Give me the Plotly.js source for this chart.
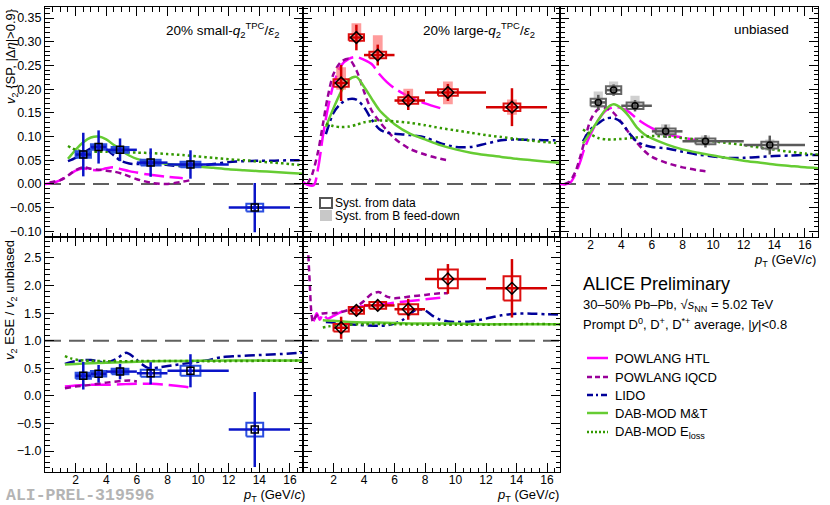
<!DOCTYPE html>
<html>
<head>
<meta charset="utf-8">
<script src="https://cdn.plot.ly/plotly-3.0.1.min.js"></script>
<style>
  html, body { margin: 0; padding: 0; background: #fff; }
  #chart { width: 830px; height: 505px; }
</style>
</head>
<body>
<div id="chart"></div>
<script>
// ---- data points (pT bins 2-3, 3-4, 4-6, 6-8, 8-12, 12-16) ----
const ptX  = [2.5, 3.5, 4.9, 6.9, 9.5, 13.7];
const ptLo = [0.5, 0.5, 0.9, 0.9, 1.5, 1.7];
const ptHi = [0.5, 0.5, 1.1, 1.1, 2.5, 2.3];
const xTicks = [2, 4, 6, 8, 10, 12, 14, 16];

// v2, 20% small-q2
const v2Small     = [0.062, 0.078, 0.072, 0.045, 0.041, -0.050];
const v2SmallStat = [0.046, 0.035, 0.024, 0.030, 0.030, 0.052];
const v2SmallSyst = [0.007, 0.006, 0.006, 0.006, 0.006, 0.008];
const v2SmallFd   = [0.006, 0.005, 0.005, 0.005, 0.005, 0.003];

// v2, 20% large-q2
const v2Large       = [0.213, 0.309, 0.272, 0.176, 0.193, 0.162];
const v2LargeStat   = [0.038, 0.027, 0.022, 0.020, 0.018, 0.040];
const v2LargeSyst   = [0.008, 0.007, 0.007, 0.007, 0.007, 0.008];
const v2LargeFdUp   = [0.033, 0.030, 0.042, 0.025, 0.023, 0.016];
const v2LargeFdDown = [0.014, 0.010, 0.005, 0.008, 0.025, 0.016];

// v2, unbiased
const v2Unb       = [0.172, 0.198, 0.165, 0.111, 0.090, 0.082];
const v2UnbStat   = [0.016, 0.012, 0.012, 0.014, 0.013, 0.020];
const v2UnbSyst   = [0.008, 0.008, 0.007, 0.006, 0.006, 0.007];
const v2UnbFdUp   = [0.023, 0.018, 0.021, 0.015, 0.012, 0.012];
const v2UnbFdDown = [0.012, 0.010, 0.009, 0.009, 0.009, 0.012];

// ratios ESE / unbiased
const rSmall     = [0.365, 0.40, 0.44, 0.41, 0.455, -0.61];
const rSmallStat = [0.25, 0.16, 0.14, 0.20, 0.30, 0.68];
const rSmallSyst = [0.055, 0.05, 0.05, 0.065, 0.09, 0.125];
const rSmallFd   = [0.05, 0.045, 0.045, 0, 0, 0];

const rLarge     = [1.235, 1.55, 1.64, 1.57, 2.12, 1.95];
const rLargeStat = [0.20, 0.09, 0.10, 0.19, 0.27, 0.53];
const rLargeSyst = [0.07, 0.06, 0.06, 0.09, 0.17, 0.22];

// ---- model curves, v2 panels ----
const htlX      = [0, 0.3, 0.7, 1, 1.3, 1.6, 2, 2.5, 3, 3.5, 4, 4.5, 5, 5.5, 6, 6.5, 7, 8, 9];
const htlSmall  = [0, 0.001, 0.004, 0.008, 0.014, 0.02, 0.028, 0.033, 0.03, 0.029, 0.033, 0.035, 0.031, 0.027, 0.024, 0.021, 0.019, 0.015, 0.012];
const htlLarge  = [0.004, -0.002, -0.003, 0.035, 0.1, 0.155, 0.21, 0.25, 0.264, 0.268, 0.262, 0.253, 0.232, 0.215, 0.202, 0.192, 0.183, 0.17, 0.16];
const htlUnb    = [0, -0.001, 0.004, 0.02, 0.045, 0.075, 0.105, 0.135, 0.155, 0.162, 0.16, 0.152, 0.138, 0.127, 0.118, 0.11, 0.104, 0.098, 0.091];

const lqcdX     = [0.3, 0.6, 1, 1.3, 1.6, 2, 2.5, 3, 3.5, 4, 4.5, 5, 5.5, 6, 7, 8, 9, 9.5];
const lqcdSmall = [0.003, 0.005, 0.008, 0.013, 0.02, 0.029, 0.035, 0.032, 0.03, 0.028, 0.026, 0.022, 0.016, 0.01, 0.002, 0, 0.005, 0.008];
const lqcdLarge = [0, 0.02, 0.07, 0.125, 0.18, 0.232, 0.258, 0.264, 0.24, 0.195, 0.155, 0.132, 0.113, 0.096, 0.074, 0.062, 0.053, 0.05];
const lqcdUnb   = [0, 0.004, 0.025, 0.055, 0.09, 0.135, 0.158, 0.16, 0.15, 0.13, 0.108, 0.088, 0.07, 0.057, 0.044, 0.035, 0.029, 0.027];

const lidoX     = [1.5, 2, 2.5, 3, 3.5, 4, 4.5, 5, 5.5, 6, 7, 8, 9, 10, 11, 12, 13, 14, 15, 16, 17];
const lidoSmall = [0.048, 0.055, 0.065, 0.075, 0.078, 0.073, 0.06, 0.048, 0.043, 0.042, 0.044, 0.04, 0.037, 0.038, 0.042, 0.046, 0.048, 0.049, 0.049, 0.05, 0.05];
const lidoLarge = [0.105, 0.15, 0.17, 0.179, 0.178, 0.162, 0.136, 0.116, 0.108, 0.106, 0.103, 0.098, 0.086, 0.078, 0.078, 0.085, 0.092, 0.094, 0.093, 0.092, 0.092];
const lidoUnb   = [0.09, 0.115, 0.128, 0.138, 0.139, 0.13, 0.108, 0.09, 0.082, 0.078, 0.075, 0.068, 0.062, 0.058, 0.055, 0.055, 0.057, 0.059, 0.06, 0.061, 0.061];

const mtX       = [1.5, 2, 2.5, 3, 3.5, 4, 4.5, 5, 5.5, 6, 7, 8, 9, 10, 11, 12, 13, 14, 15, 16, 17];
const mtSmall   = [0.053, 0.072, 0.088, 0.098, 0.1, 0.094, 0.082, 0.07, 0.06, 0.053, 0.046, 0.042, 0.039, 0.037, 0.034, 0.031, 0.029, 0.027, 0.025, 0.023, 0.021];
const mtLarge   = [0.12, 0.16, 0.195, 0.22, 0.226, 0.205, 0.18, 0.156, 0.14, 0.126, 0.106, 0.094, 0.082, 0.073, 0.066, 0.061, 0.057, 0.053, 0.05, 0.047, 0.044];
const mtUnb     = [0.085, 0.11, 0.135, 0.158, 0.168, 0.16, 0.143, 0.12, 0.105, 0.096, 0.083, 0.073, 0.066, 0.06, 0.054, 0.049, 0.045, 0.041, 0.038, 0.035, 0.033];

const elossX     = [1.5, 2, 2.5, 3, 3.5, 4, 5, 6, 7, 8, 9, 10, 11, 12, 13, 14, 15, 16, 17];
const elossSmall = [0.08, 0.072, 0.069, 0.068, 0.068, 0.068, 0.067, 0.066, 0.065, 0.063, 0.061, 0.058, 0.055, 0.052, 0.05, 0.047, 0.045, 0.042, 0.039];
const elossLarge = [0.127, 0.122, 0.12, 0.121, 0.125, 0.13, 0.134, 0.132, 0.129, 0.124, 0.118, 0.113, 0.108, 0.103, 0.099, 0.095, 0.091, 0.088, 0.085];
const elossUnb   = [0.115, 0.105, 0.097, 0.094, 0.094, 0.095, 0.098, 0.101, 0.1, 0.097, 0.094, 0.09, 0.086, 0.082, 0.077, 0.072, 0.068, 0.064, 0.061];

// ---- model curves, ratio panels ----
const rHtlXS  = [1.3, 2, 3, 4, 5, 6, 7, 8, 9, 9.5];
const rHtlS   = [0.17, 0.19, 0.2, 0.2, 0.21, 0.22, 0.22, 0.2, 0.17, 0.15];
const rLqcdXS = [1.3, 2, 3, 4, 5, 5.5, 6];
const rLqcdS  = [0.14, 0.17, 0.2, 0.24, 0.27, 0.28, 0.26];
const rLidoXS = [1.3, 2, 3, 4, 4.6, 5.3, 5.8, 6.3, 6.8, 7.5, 8.5, 9.5, 10.5, 11.5, 12.5, 14, 15.5, 17];
const rLidoS  = [0.58, 0.63, 0.65, 0.6, 0.66, 0.78, 0.7, 0.58, 0.5, 0.52, 0.56, 0.6, 0.64, 0.7, 0.72, 0.74, 0.76, 0.79];
const rMtX    = [1.3, 2, 3, 4, 5, 6, 8, 10, 12, 14, 17];
const rMtS    = [0.57, 0.58, 0.59, 0.6, 0.61, 0.62, 0.63, 0.635, 0.64, 0.64, 0.64];
const rElossX = [1.3, 1.7, 2.2, 2.6, 3, 4, 6, 8, 10, 12, 14, 17];
const rElossS = [0.72, 0.68, 0.65, 0.64, 0.635, 0.63, 0.63, 0.63, 0.63, 0.63, 0.635, 0.64];

const rHtlXL  = [0.7, 0.9, 1.1, 1.3, 1.6, 2, 2.5, 3, 3.5, 4, 4.5, 5, 5.5, 6, 7, 8, 9];
const rHtlL   = [1.35, 1.5, 1.38, 1.48, 1.4, 1.45, 1.52, 1.56, 1.6, 1.63, 1.64, 1.65, 1.67, 1.69, 1.72, 1.75, 1.78];
const rLqcdXL = [0.35, 0.45, 0.55, 0.65, 0.8, 1, 1.5, 2, 2.5, 3, 3.5, 4, 4.5, 5, 5.5, 6, 7, 8, 9, 9.5];
const rLqcdL  = [2.55, 2.0, 1.5, 1.34, 1.42, 1.48, 1.5, 1.5, 1.52, 1.56, 1.62, 1.72, 1.85, 1.88, 1.8, 1.77, 1.8, 1.83, 1.86, 1.86];
const rLidoXL = [1.5, 2, 3, 4, 5, 5.5, 6, 6.5, 7, 7.5, 8, 8.5, 9, 9.5, 10, 11, 12, 13, 14, 15, 16, 17];
const rLidoL  = [1.34, 1.33, 1.3, 1.28, 1.27, 1.28, 1.31, 1.37, 1.48, 1.57, 1.55, 1.45, 1.38, 1.35, 1.34, 1.35, 1.4, 1.46, 1.49, 1.49, 1.48, 1.47];
const rMtL    = [1.37, 1.36, 1.34, 1.33, 1.33, 1.32, 1.31, 1.31, 1.3, 1.3, 1.3];
const rElossL = [1.24, 1.26, 1.28, 1.29, 1.29, 1.3, 1.3, 1.29, 1.29, 1.29, 1.3, 1.3];

// ---- styles ----
const FONT = 'Liberation Sans, Arial, Helvetica, sans-serif';
const models = {
  htl:   {name: 'POWLANG HTL',  color: '#ff00ff', dash: '20px,6px',        legDash: 'solid'},
  lqcd:  {name: 'POWLANG lQCD', color: '#990099', dash: '6px,4px',         legDash: '5px,3px'},
  lido:  {name: 'LIDO',         color: '#000099', dash: '10px,4px,3px,4px', legDash: '6px,3px,2px,3px'},
  mt:    {name: 'DAB-MOD M&amp;T', color: '#66cc33', dash: 'solid',       legDash: 'solid'},
  eloss: {name: 'DAB-MOD E<sub>loss</sub>', color: '#339900', dash: '2.5px,3px', legDash: '2px,2px'}
};
const boxHalfW = [0.5, 0.5, 0.55, 0.65, 0.65, 0.55];

const W = 830, H = 505;
const px = v => v / W;
const py = v => 1 - v / H;
const colX = [[45, 303], [303, 560], [560, 818]];
const rowY = [[7, 237], [237, 472]];

function curve(x, y, m, id) {
  const s = models[m];
  return {x, y, xaxis: 'x' + id, yaxis: 'y' + id, mode: 'lines', hoverinfo: 'skip', showlegend: false,
    line: {color: s.color, width: 2.5, dash: s.dash, shape: 'spline', smoothing: 0.8}};
}

// closed rectangles around each point, separated by gaps
function boxes(ys, up, down, hw, id, style) {
  const X = [], Y = [];
  ptX.forEach((x, i) => {
    if (!up[i] && !down[i]) return;
    const w = Array.isArray(hw) ? hw[i] : hw;
    X.push(x - w, x + w, x + w, x - w, x - w, null);
    Y.push(ys[i] - down[i], ys[i] - down[i], ys[i] + up[i], ys[i] + up[i], ys[i] - down[i], null);
  });
  const t = {x: X, y: Y, xaxis: 'x' + id, yaxis: 'y' + id, mode: 'lines', hoverinfo: 'skip', showlegend: false};
  if (style.fill) {
    t.fill = 'toself'; t.fillcolor = style.fill; t.line = {width: 0};
  } else {
    t.line = {color: style.line, width: 2};
  }
  return t;
}

function points(ys, stat, id, color, symbol, size) {
  return {x: ptX, y: ys, xaxis: 'x' + id, yaxis: 'y' + id, mode: 'markers', showlegend: false, hoverinfo: 'skip',
    marker: {symbol, size, color: 'black', line: {color: 'black', width: 1.5}},
    error_y: {type: 'data', array: stat, color, thickness: 2.5, width: 0},
    error_x: {type: 'data', array: ptHi, arrayminus: ptLo, color, thickness: 2.5, width: 0}};
}

const BLUE = '#0a14c8', RED = '#d40000', GREY = '#5a5a5a';

const traces = [
  // top-left: small q2
  curve(htlX, htlSmall, 'htl', ''), curve(lqcdX, lqcdSmall, 'lqcd', ''), curve(lidoX, lidoSmall, 'lido', ''),
  curve(mtX, mtSmall, 'mt', ''), curve(elossX, elossSmall, 'eloss', ''),
  boxes(v2Small, v2SmallFd, v2SmallFd, boxHalfW, '', {fill: 'rgba(20,50,215,0.85)'}),
  boxes(v2Small, v2SmallSyst, v2SmallSyst, boxHalfW, '', {line: '#2a4ee0'}),
  points(v2Small, v2SmallStat, '', BLUE, 'square-open', 7),
  // top-middle: large q2
  curve(htlX, htlLarge, 'htl', '2'), curve(lqcdX, lqcdLarge, 'lqcd', '2'), curve(lidoX, lidoLarge, 'lido', '2'),
  curve(mtX, mtLarge, 'mt', '2'), curve(elossX, elossLarge, 'eloss', '2'),
  boxes(v2Large, v2LargeFdUp, v2LargeFdDown, 0.32, '2', {fill: 'rgba(255,90,90,0.6)'}),
  boxes(v2Large, v2LargeSyst, v2LargeSyst, boxHalfW, '2', {line: '#dd1010'}),
  points(v2Large, v2LargeStat, '2', RED, 'diamond-open', 9),
  // top-right: unbiased
  curve(htlX, htlUnb, 'htl', '3'), curve(lqcdX, lqcdUnb, 'lqcd', '3'), curve(lidoX, lidoUnb, 'lido', '3'),
  curve(mtX, mtUnb, 'mt', '3'), curve(elossX, elossUnb, 'eloss', '3'),
  boxes(v2Unb, v2UnbFdUp, v2UnbFdDown, 0.3, '3', {fill: 'rgba(170,170,170,0.55)'}),
  boxes(v2Unb, v2UnbSyst, v2UnbSyst, boxHalfW, '3', {line: '#666666'}),
  points(v2Unb, v2UnbStat, '3', GREY, 'circle-open', 6),
  // bottom-left: ratio small
  curve(rHtlXS, rHtlS, 'htl', '4'), curve(rLqcdXS, rLqcdS, 'lqcd', '4'), curve(rLidoXS, rLidoS, 'lido', '4'),
  curve(rMtX, rMtS, 'mt', '4'), curve(rElossX, rElossS, 'eloss', '4'),
  boxes(rSmall, rSmallFd, rSmallFd, boxHalfW, '4', {fill: 'rgba(20,50,215,0.85)'}),
  boxes(rSmall, rSmallSyst, rSmallSyst, boxHalfW, '4', {line: '#2a4ee0'}),
  points(rSmall, rSmallStat, '4', BLUE, 'square-open', 7),
  // bottom-middle: ratio large
  curve(rHtlXL, rHtlL, 'htl', '5'), curve(rLqcdXL, rLqcdL, 'lqcd', '5'), curve(rLidoXL, rLidoL, 'lido', '5'),
  curve(rMtX, rMtL, 'mt', '5'), curve(rElossX, rElossL, 'eloss', '5'),
  boxes(rLarge, rLargeSyst, rLargeSyst, boxHalfW, '5', {line: '#dd1010'}),
  points(rLarge, rLargeStat, '5', RED, 'diamond-open', 9)
];

const panels = [
  {id: '',  col: 0, row: 0, xlab: false, ylab: true},
  {id: '2', col: 1, row: 0, xlab: false, ylab: false},
  {id: '3', col: 2, row: 0, xlab: true,  ylab: false},
  {id: '4', col: 0, row: 1, xlab: true,  ylab: true},
  {id: '5', col: 1, row: 1, xlab: true,  ylab: false}
];

const layout = {
  width: W, height: H,
  margin: {l: 0, r: 0, t: 0, b: 0},
  paper_bgcolor: 'white', plot_bgcolor: 'white',
  font: {family: FONT, color: 'black', size: 12},
  showlegend: false,
  shapes: [], annotations: []
};

const common = {
  ticks: 'inside', tickcolor: 'black', tickwidth: 1, ticklen: 9,
  mirror: 'allticks', showline: true, linecolor: 'black', linewidth: 1,
  showgrid: false, zeroline: false, fixedrange: true
};

panels.forEach(p => {
  const top = p.row === 0;
  layout['xaxis' + p.id] = Object.assign({}, common, {
    domain: [px(colX[p.col][0]), px(colX[p.col][1])],
    range: [0, 16.85], anchor: 'y' + p.id,
    tickmode: 'array', tickvals: xTicks, showticklabels: p.xlab,
    tickfont: {size: 12}, ticklabelstandoff: -3,
    minor: {ticks: 'inside', ticklen: 4.5, dtick: 0.5, tick0: 0, tickcolor: 'black', showgrid: false}
  });
  layout['yaxis' + p.id] = Object.assign({}, common, {
    domain: [py(rowY[p.row][1]), py(rowY[p.row][0])],
    range: top ? [-0.112, 0.3734] : [-1.38, 2.88],
    anchor: 'x' + p.id,
    dtick: top ? 0.05 : 0.5, tick0: 0, tickformat: top ? '.2f' : '.1f',
    showticklabels: p.ylab, tickfont: {size: 12.5},
    minor: {ticks: 'inside', ticklen: 4.5, dtick: top ? 0.01 : 0.1, tick0: 0, tickcolor: 'black', showgrid: false}
  });
  // reference line at 0 (v2) or 1 (ratio)
  layout.shapes.push({type: 'line', xref: 'x' + p.id + ' domain', yref: 'y' + p.id,
    x0: 0, x1: 1, y0: top ? 0 : 1, y1: top ? 0 : 1, layer: 'below',
    line: {color: '#606060', width: 2, dash: '16px,8px'}});
});

function note(text, x, y, size, opts) {
  layout.annotations.push(Object.assign({
    text, xref: 'paper', yref: 'paper', x: px(x), y: py(y), showarrow: false,
    xanchor: 'left', yanchor: 'middle', font: {family: FONT, size, color: 'black'}
  }, opts || {}));
}

// panel labels
note('20% small-<i>q</i><sub>2</sub><sup>TPC</sup>/<i>ε</i><sub>2</sub>', 281, 30, 13.5, {xanchor: 'right'});
note('20% large-<i>q</i><sub>2</sub><sup>TPC</sup>/<i>ε</i><sub>2</sub>', 537, 30, 13.5, {xanchor: 'right'});
note('unbiased', 791, 29, 13.5, {xanchor: 'right'});

// axis titles, right-aligned below the tick labels
const ptTitle = '<i>p</i><sub>T</sub> (GeV/<i>c</i>)';
note(ptTitle, 818, 260, 13, {xanchor: 'right'});
note(ptTitle, 307, 495, 13, {xanchor: 'right'});
note(ptTitle, 561, 495, 13, {xanchor: 'right'});
note('<i>v</i><sub>2</sub> {SP, |Δ<i>η</i>|&gt;0.9}', 11, 6, 13, {xanchor: 'center', yanchor: 'top', textangle: -90});
note('<i>v</i><sub>2</sub> ESE / <i>v</i><sub>2</sub> unbiased', 10, 238, 13, {xanchor: 'center', yanchor: 'top', textangle: -90});

// systematic box legend
layout.shapes.push({type: 'rect', xref: 'paper', yref: 'paper', x0: px(320), x1: px(332), y0: py(208), y1: py(198),
  line: {color: '#555555', width: 2}, fillcolor: 'rgba(0,0,0,0)'});
layout.shapes.push({type: 'rect', xref: 'paper', yref: 'paper', x0: px(320), x1: px(332), y0: py(221), y1: py(210),
  line: {width: 0}, fillcolor: '#c8c8c8'});
note('Syst. from data', 333, 203, 12);
note('Syst. from B feed-down', 333, 216, 12);

// info block
note('ALICE Preliminary', 581, 284, 18);
note('30–50% Pb–Pb, √<i>s</i><sub>NN</sub> = 5.02 TeV', 581, 305, 13);
note('Prompt D<sup>0</sup>, D<sup>+</sup>, D<sup>*+</sup> average, |<i>y</i>|&lt;0.8', 581, 324, 13);

// model legend
const legY = [358, 377, 395, 413, 432];
['htl', 'lqcd', 'lido', 'mt', 'eloss'].forEach((m, i) => {
  const s = models[m];
  layout.shapes.push({type: 'line', xref: 'paper', yref: 'paper', x0: px(587), x1: px(608), y0: py(legY[i]), y1: py(legY[i]),
    line: {color: s.color, width: 2.5, dash: s.legDash}});
  note(s.name, 613, legY[i], 13);
});

// watermark
note('<b>ALI-PREL-319596</b>', 4, 495, 16.5, {font: {family: 'Liberation Mono, DejaVu Sans Mono, monospace', size: 16.5, color: '#b4b4b4'}});

Plotly.newPlot('chart', traces, layout, {displayModeBar: false, staticPlot: true});
</script>
</body>
</html>
